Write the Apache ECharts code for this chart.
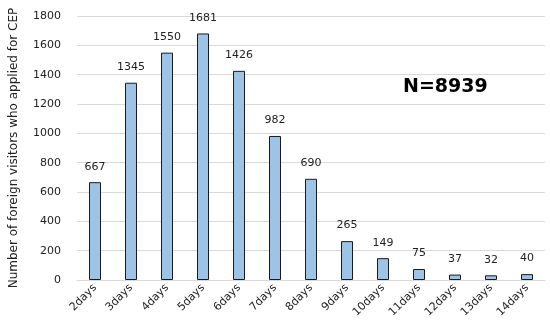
<!DOCTYPE html>
<html><head><meta charset="utf-8">
<script src="https://cdn.jsdelivr.net/npm/echarts@6/dist/echarts.min.js"></script>
<style>html,body{margin:0;padding:0;background:#fff}#c{width:550px;height:325px}</style>
</head><body><div id="c"></div>
<script>
const categories = ['2days','3days','4days','5days','6days','7days','8days','9days','10days','11days','12days','13days','14days'];
const values = [667,1345,1550,1681,1426,982,690,265,149,75,37,32,40];
const yTicks = {min:0, max:1800, interval:200};
const yTitle = 'Number of foreign visitors who applied for CEP';
const note = 'N=8939';

const chart = echarts.init(document.getElementById('c'), null, {renderer:'canvas'});
const font = 'DejaVu Sans';
chart.setOption({
  animation:false,
  textStyle:{fontFamily:font},
  grid:{left:67, right:5, top:16, bottom:45},
  xAxis:{type:'category', data:categories,
    axisLine:{show:true, lineStyle:{color:'#d9d9d9'}}, axisTick:{show:false},
    axisLabel:{rotate:45, color:'#222', fontFamily:font, fontSize:11, margin:6, interval:0}},
  yAxis:{type:'value', min:yTicks.min, max:yTicks.max, interval:yTicks.interval,
    name:yTitle, nameLocation:'middle', nameGap:57,
    nameTextStyle:{fontFamily:font, fontSize:12, color:'#222'},
    axisLine:{show:false}, axisTick:{show:false},
    axisLabel:{color:'#222', fontFamily:font, fontSize:11, margin:16, formatter:(v)=>String(v)},
    splitLine:{lineStyle:{color:'#d9d9d9', width:1}}},
  graphic:[{type:'text', left:403, top:78, style:{text:note, fontFamily:font, fontWeight:'bold', fontSize:19, fill:'#000'}}],
  series:[{type:'bar', data:values, barWidth:12,
    itemStyle:{color:'#9dc3e6', borderColor:'#1a1a1a', borderWidth:1},
    label:{show:true, position:'top', distance:10, color:'#222', fontFamily:font, fontSize:11}}]
});
</script></body></html>
